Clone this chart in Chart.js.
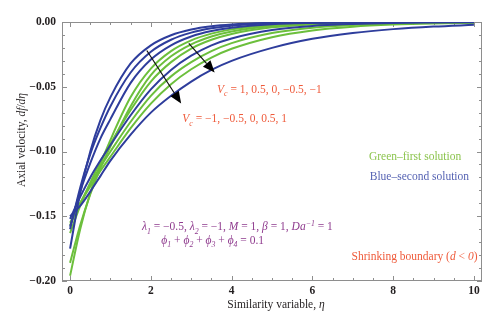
<!DOCTYPE html>
<html>
<head>
<meta charset="utf-8">
<script src="https://cdn.jsdelivr.net/npm/chart.js@4.4.1/dist/chart.umd.min.js"></script>
<style>
  html, body { margin: 0; padding: 0; background: #fff; }
</style>
</head>
<body>
<canvas id="myChart" width="500" height="328"></canvas>
<script>
"use strict";
// similarity variable eta, sample points
const etaValues = [0, 0.25, 0.5, 0.75, 1, 1.5, 2, 2.5, 3, 3.5, 4, 5, 6, 7, 8, 9, 10];

// second solution (blue), top to bottom at mid eta
const blue1 = [-0.175, -0.132, -0.100, -0.076, -0.058, -0.032, -0.018, -0.0102, -0.0058, -0.0033, -0.0019, -0.0006, -0.0002, -0.0001, 0, 0, 0];
const blue2 = [-0.160, -0.128, -0.102, -0.082, -0.065, -0.039, -0.023, -0.0137, -0.0082, -0.0049, -0.0029, -0.001, -0.0004, -0.0001, -0.00005, 0, 0];
const blue3 = [-0.158, -0.131, -0.109, -0.090, -0.075, -0.047, -0.029, -0.018, -0.0112, -0.007, -0.0044, -0.0017, -0.0007, -0.0003, -0.0001, 0, 0];
const blue4 = [-0.152, -0.135, -0.120, -0.107, -0.095, -0.072, -0.052, -0.037, -0.026, -0.018, -0.0127, -0.0062, -0.003, -0.0015, -0.0007, -0.0004, -0.0002];
const blue5 = [-0.150, -0.142, -0.131, -0.119, -0.107, -0.087, -0.070, -0.057, -0.046, -0.037, -0.030, -0.020, -0.013, -0.0085, -0.0055, -0.0035, -0.0022];

// first solution (green)
const green1 = [-0.196, -0.160, -0.132, -0.110, -0.091, -0.058, -0.036, -0.0225, -0.0142, -0.009, -0.0057, -0.0023, -0.0009, -0.0004, -0.0002, -0.0001, 0];
const green2 = [-0.186, -0.157, -0.133, -0.113, -0.096, -0.065, -0.041, -0.0265, -0.0172, -0.0112, -0.0073, -0.0031, -0.0013, -0.0006, -0.0002, -0.0001, 0];
const green3 = [-0.163, -0.142, -0.124, -0.108, -0.094, -0.068, -0.046, -0.031, -0.0205, -0.0137, -0.0092, -0.0041, -0.0018, -0.0008, -0.0004, -0.0002, -0.0001];
const green4 = [-0.157, -0.140, -0.125, -0.112, -0.100, -0.077, -0.057, -0.042, -0.031, -0.0225, -0.0163, -0.0085, -0.0044, -0.0023, -0.0012, -0.0006, -0.0003];
const green5 = [-0.155, -0.140, -0.127, -0.115, -0.104, -0.082, -0.063, -0.048, -0.0365, -0.0275, -0.0207, -0.0117, -0.0065, -0.0036, -0.002, -0.0011, -0.0006];

const xTicks = [0, 2, 4, 6, 8, 10];
const yTicks = [-0.20, -0.15, -0.10, -0.05, 0.00];

const BLUE = "#2e3d9c";
const GREEN = "#6cbf3c";
const SERIF = "'Liberation Serif', 'DejaVu Serif', serif";

function toPoints(ys) {
    return etaValues.map((x, i) => ({ x: x, y: ys[i] }));
}

function lineSet(ys, color) {
    return {
        data: toPoints(ys),
        borderColor: color,
        borderWidth: 2,
        pointRadius: 0,
        fill: false,
        cubicInterpolationMode: "monotone"
    };
}

// text made of runs: [text, flags] where flags: i = italic, s = subscript, p = superscript
function drawRuns(ctx, x, y, runs, size, color) {
    ctx.fillStyle = color;
    ctx.textBaseline = "alphabetic";
    ctx.textAlign = "left";
    let cx = x;
    for (const r of runs) {
        const f = r[1] || "";
        const small = f.includes("s") || f.includes("p");
        const s = small ? size * 0.68 : size;
        ctx.font = (f.includes("i") ? "italic " : "") + s + "px " + SERIF;
        const dy = f.includes("s") ? size * 0.28 : (f.includes("p") ? -size * 0.38 : 0);
        ctx.fillText(r[0], cx, y + dy);
        cx += ctx.measureText(r[0]).width;
    }
    return cx - x;
}

function runsWidth(ctx, runs, size) {
    let w = 0;
    for (const r of runs) {
        const f = r[1] || "";
        const small = f.includes("s") || f.includes("p");
        ctx.font = (f.includes("i") ? "italic " : "") + (small ? size * 0.68 : size) + "px " + SERIF;
        w += ctx.measureText(r[0]).width;
    }
    return w;
}

function arrow(ctx, x1, y1, x2, y2) {
    const ang = Math.atan2(y2 - y1, x2 - x1);
    const hl = 12, hw = 5;
    const bx = x2 - hl * Math.cos(ang), by = y2 - hl * Math.sin(ang);
    ctx.strokeStyle = "#111";
    ctx.lineWidth = 1.2;
    ctx.beginPath();
    ctx.moveTo(x1, y1);
    ctx.lineTo(bx, by);
    ctx.stroke();
    ctx.fillStyle = "#000";
    ctx.beginPath();
    ctx.moveTo(x2, y2);
    ctx.lineTo(bx + hw * Math.sin(ang), by - hw * Math.cos(ang));
    ctx.lineTo(bx - hw * Math.sin(ang), by + hw * Math.cos(ang));
    ctx.closePath();
    ctx.fill();
}

const framePlugin = {
    id: "frame",
    beforeDatasetsDraw(chart) {
        const { ctx, chartArea: a, scales } = chart;
        ctx.save();
        ctx.strokeStyle = "#8e8e8e";
        ctx.lineWidth = 1;
        ctx.strokeRect(a.left + 0.5, a.top + 0.5, a.right - a.left - 1, a.bottom - a.top - 1);
        ctx.beginPath();
        // x ticks, inward on bottom and top
        for (let v = 0; v <= 10.001; v += 0.5) {
            const px = Math.round(scales.x.getPixelForValue(v)) + 0.5;
            const len = Math.abs(v % 2) < 1e-6 ? 5 : 3;
            ctx.moveTo(px, a.bottom);
            ctx.lineTo(px, a.bottom - len);
            ctx.moveTo(px, a.top);
            ctx.lineTo(px, a.top + len);
        }
        // y ticks, inward on left and right
        for (let k = 0; k <= 20; k++) {
            const v = -k * 0.01;
            const py = Math.round(scales.y.getPixelForValue(v)) + 0.5;
            const len = k % 5 === 0 ? 5 : 3;
            ctx.moveTo(a.left, py);
            ctx.lineTo(a.left + len, py);
            ctx.moveTo(a.right, py);
            ctx.lineTo(a.right - len, py);
        }
        ctx.stroke();
        ctx.restore();
    }
};

const notesPlugin = {
    id: "notes",
    afterDraw(chart) {
        const { ctx, scales } = chart;
        const X = v => scales.x.getPixelForValue(v);
        const Y = v => scales.y.getPixelForValue(v);
        ctx.save();

        arrow(ctx, X(1.9), Y(-0.022), X(2.75), Y(-0.063));
        arrow(ctx, X(2.94), Y(-0.0165), X(3.58), Y(-0.039));

        const red = "#ef5a3a";
        drawRuns(ctx, X(3.64), Y(-0.0545), [["V", "i"], ["c", "is"], [" = 1, 0.5, 0, \u22120.5, \u22121"]], 11.5, red);
        drawRuns(ctx, X(2.78), Y(-0.0775), [["V", "i"], ["c", "is"], [" = \u22121, \u22120.5, 0, 0.5, 1"]], 11.5, red);

        drawRuns(ctx, X(7.4), Y(-0.1065), [["Green\u2013first solution"]], 11.5, "#8cc44e");
        drawRuns(ctx, X(7.42), Y(-0.122), [["Blue\u2013second solution"]], 11.5, "#5663b3");

        const purple = "#8f3b8e";
        drawRuns(ctx, X(1.78), Y(-0.161), [["\u03bb", "i"], ["1", "is"], [" = \u22120.5, "], ["\u03bb", "i"], ["2", "is"], [" = \u22121, "],
            ["M", "i"], [" = 1, "], ["\u03b2", "i"], [" = 1, "], ["Da", "i"], ["\u22121", "ip"], [" = 1"]], 11.5, purple);
        drawRuns(ctx, X(2.26), Y(-0.1715), [["\u03d5", "i"], ["1", "is"], [" + "], ["\u03d5", "i"], ["2", "is"], [" + "],
            ["\u03d5", "i"], ["3", "is"], [" + "], ["\u03d5", "i"], ["4", "is"], [" = 0.1"]], 11.5, purple);

        drawRuns(ctx, X(6.97), Y(-0.184), [["Shrinking boundary ("], ["d", "i"], [" < "], ["0", "i"], [")"]], 11.5, red);

        // axis titles
        const xt = [["Similarity variable, "], ["\u03b7", "i"]];
        const xw = runsWidth(ctx, xt, 11.5);
        drawRuns(ctx, 276 - xw / 2, 308, xt, 11.5, "#231f20");

        const yt = [["Axial velocity, "], ["df", "i"], ["/"], ["d\u03b7", "i"]];
        const yw = runsWidth(ctx, yt, 11.5);
        ctx.translate(25, 140);
        ctx.rotate(-Math.PI / 2);
        drawRuns(ctx, -yw / 2, 0, yt, 11.5, "#231f20");
        ctx.restore();
    }
};

const chart = new Chart("myChart", {
    type: "line",
    data: {
        datasets: [
            lineSet(blue1, BLUE), lineSet(blue2, BLUE), lineSet(blue3, BLUE), lineSet(blue4, BLUE), lineSet(blue5, BLUE),
            lineSet(green1, GREEN), lineSet(green2, GREEN), lineSet(green3, GREEN), lineSet(green4, GREEN), lineSet(green5, GREEN)
        ]
    },
    options: {
        responsive: false,
        animation: false,
        devicePixelRatio: 1,
        layout: { padding: { top: 22, right: 18, left: 0, bottom: 0 } },
        plugins: { legend: { display: false }, tooltip: { enabled: false } },
        scales: {
            x: {
                type: "linear",
                min: -0.2,
                max: 10.2,
                grid: { display: false, drawTicks: false },
                border: { display: false },
                afterBuildTicks: s => { s.ticks = xTicks.map(v => ({ value: v })); },
                afterFit: s => { s.height = 47; },
                ticks: {
                    padding: 3,
                    maxRotation: 0,
                    color: "#231f20",
                    font: { family: SERIF, size: 11.5, weight: "bold" },
                    callback: v => String(v)
                }
            },
            y: {
                type: "linear",
                min: -0.2,
                max: 0,
                grid: { display: false, drawTicks: false },
                border: { display: false },
                afterBuildTicks: s => { s.ticks = yTicks.map(v => ({ value: v })); },
                afterFit: s => { s.width = 62; },
                ticks: {
                    padding: 6,
                    color: "#231f20",
                    font: { family: SERIF, size: 11.5, weight: "bold" },
                    callback: v => (v < 0 ? "\u2212" : "") + Math.abs(v).toFixed(2)
                }
            }
        }
    },
    plugins: [framePlugin, notesPlugin]
});
</script>
</body>
</html>
